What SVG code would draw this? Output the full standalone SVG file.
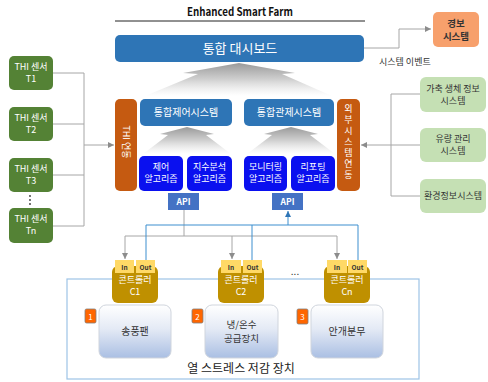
<svg xmlns="http://www.w3.org/2000/svg" width="488" height="382" viewBox="0 0 488 382">
<defs>
<linearGradient id="gArrow" x1="0" y1="0" x2="0" y2="1">
<stop offset="0" stop-color="#9a9a9a"/>
<stop offset="0.5" stop-color="#d0d0d0"/>
<stop offset="1" stop-color="#ffffff" stop-opacity="0.6"/>
</linearGradient>
<linearGradient id="gAct" x1="0" y1="0" x2="0" y2="1">
<stop offset="0" stop-color="#ffffff"/>
<stop offset="0.45" stop-color="#e4eaf5"/>
<stop offset="1" stop-color="#aabfe3"/>
</linearGradient>
<marker id="mGray" markerUnits="userSpaceOnUse" markerWidth="8" markerHeight="8" refX="6" refY="3" orient="auto">
<path d="M0,0 L6,3 L0,6 z" fill="#8c8c8c"/>
</marker>
<marker id="mBlue" markerUnits="userSpaceOnUse" markerWidth="8" markerHeight="8" refX="6" refY="3" orient="auto">
<path d="M0,0 L6,3 L0,6 z" fill="#2e75b6"/>
</marker>
</defs>
<style>
text{font-family:"Noto Sans CJK KR","Liberation Sans",sans-serif;}
.w{fill:#ffffff;}
.d{fill:#333333;}
.c{text-anchor:middle;}
.blue{fill:#2e75b6;}
.algo{fill:#0a10ef;}
.api{fill:#4472c4;}
.org{fill:#c55a11;}
.sens{fill:#548235;}
.ext{fill:#c5e0b4;}
.ctrl{fill:#bf9000;}
.tab{fill:#ffd966;}
.act{fill:url(#gAct);stroke:#d0d5dd;stroke-width:1;}
.badge{fill:#ff6600;stroke:#7f7f7f;stroke-width:0.8;}
.gl{fill:none;stroke:#a6a6a6;stroke-width:1;}
.bl{fill:none;stroke:#3d8fcf;stroke-width:1;}
.vert{writing-mode:vertical-rl;text-orientation:upright;letter-spacing:2px;}
</style>
<rect width="488" height="382" fill="#ffffff"/>

<g id="title">
<text x="240" y="16" class="c" font-family="Liberation Sans, sans-serif" font-weight="bold" font-size="11" fill="#111" textLength="106" lengthAdjust="spacingAndGlyphs">Enhanced Smart Farm</text>
<line x1="115" y1="21" x2="365" y2="21" stroke="#222" stroke-width="1"/>
</g>

<g id="container">
<rect x="67" y="279" width="352" height="100" fill="none" stroke="#9dc3e6" stroke-width="1.2"/>
<text x="241" y="373" class="c" font-size="12" fill="#222">열 스트레스 저감 장치</text>
</g>

<g id="arrows-gradient">
<path d="M239,63 L295,73 L282,74 L332,96 L145,96 L198,74 L183,73 Z" fill="url(#gArrow)"/>
<path d="M187,127 L214,134 L206,135 L231,154 L143,154 L168,135 L160,134 Z" fill="url(#gArrow)"/>
<path d="M291,127 L318,134 L310,135 L335,154 L247,154 L272,135 L264,134 Z" fill="url(#gArrow)"/>
</g>

<g id="connectors">
<polyline class="gl" points="53,73 84,73"/>
<polyline class="gl" points="53,124 84,124"/>
<polyline class="gl" points="53,175 84,175"/>
<polyline class="gl" points="53,226 84,226"/>
<line class="gl" x1="84" y1="73" x2="84" y2="226"/>
<line class="gl" x1="84" y1="145" x2="114" y2="145" marker-end="url(#mGray)"/>
<polyline class="gl" points="420,94 391,94 391,196 420,196"/>
<line class="gl" x1="391" y1="145" x2="420" y2="145"/>
<line class="gl" x1="391" y1="145" x2="361" y2="145" marker-end="url(#mGray)"/>
<polyline class="gl" points="364,48 399,48 399,29 431,29" marker-end="url(#mGray)"/>
<polyline class="gl" points="184,210 184,236"/>
<line class="gl" x1="125" y1="236" x2="337" y2="236"/>
<line class="gl" x1="125" y1="236" x2="125" y2="259" marker-end="url(#mGray)"/>
<line class="gl" x1="232" y1="236" x2="232" y2="259" marker-end="url(#mGray)"/>
<line class="gl" x1="337" y1="236" x2="337" y2="259" marker-end="url(#mGray)"/>
<polyline class="bl" points="146,260 146,225 358,225 358,260"/>
<line class="bl" x1="252" y1="225" x2="252" y2="260"/>
<line class="bl" x1="288" y1="225" x2="288" y2="211" marker-end="url(#mBlue)"/>
</g>

<g id="dashboard">
<rect x="115" y="35" width="249" height="27" rx="5" class="blue"/>
<text x="240" y="53" class="c w" font-size="13">통합 대시보드</text>
</g>

<g id="alarm">
<rect x="433" y="12" width="46" height="35" rx="5" fill="#f7a06c"/>
<text x="456" y="27" class="c" font-size="9.5" font-weight="bold" fill="#333">경보</text>
<text x="456" y="40" class="c" font-size="9.5" font-weight="bold" fill="#333">시스템</text>
</g>
<text x="379" y="65" font-size="9" class="d">시스템 이벤트</text>

<g id="sensor-t1">
<rect x="9" y="56" width="44" height="34" rx="5" class="sens"/>
<text x="31" y="70" class="c w" font-size="9">THI 센서</text>
<text x="31" y="82" class="c w" font-size="9">T1</text>
</g>
<g id="sensor-t2">
<rect x="9" y="107" width="44" height="34" rx="5" class="sens"/>
<text x="31" y="121" class="c w" font-size="9">THI 센서</text>
<text x="31" y="133" class="c w" font-size="9">T2</text>
</g>
<g id="sensor-t3">
<rect x="9" y="158" width="44" height="34" rx="5" class="sens"/>
<text x="31" y="172" class="c w" font-size="9">THI 센서</text>
<text x="31" y="184" class="c w" font-size="9">T3</text>
</g>
<g id="dots-sensors" fill="#333">
<circle cx="30" cy="196" r="0.9"/>
<circle cx="30" cy="200" r="0.9"/>
<circle cx="30" cy="204" r="0.9"/>
</g>
<g id="sensor-tn">
<rect x="9" y="208" width="44" height="35" rx="5" class="sens"/>
<text x="31" y="222" class="c w" font-size="9">THI 센서</text>
<text x="31" y="234" class="c w" font-size="9">Tn</text>
</g>

<g id="thi-link">
<rect x="115" y="99" width="22" height="92" rx="5" class="org"/>
<text x="0" y="0" transform="translate(122.5,142) rotate(90)" class="c w" font-size="9">THI 연동</text>
</g>

<g id="ext-link">
<rect x="337" y="99" width="23" height="92" rx="5" class="org"/>
<text x="348.5" y="143" class="c w vert" font-size="9">외부시스템연동</text>
</g>

<g id="control-system">
<rect x="140" y="99" width="92" height="27" rx="5" class="blue"/>
<text x="186" y="116" class="c w" font-size="10">통합제어시스템</text>
</g>
<g id="monitor-system">
<rect x="244" y="99" width="90" height="27" rx="5" class="blue"/>
<text x="289" y="116" class="c w" font-size="10">통합관제시스템</text>
</g>

<g id="algo-control">
<rect x="139" y="156" width="44" height="35" rx="5" class="algo"/>
<text x="161" y="170" class="c w" font-size="9">제어</text>
<text x="161" y="182" class="c w" font-size="9">알고리즘</text>
</g>
<g id="algo-index">
<rect x="187" y="156" width="45" height="35" rx="5" class="algo"/>
<text x="209.5" y="170" class="c w" font-size="9">지수분석</text>
<text x="209.5" y="182" class="c w" font-size="9">알고리즘</text>
</g>
<g id="algo-monitor">
<rect x="244" y="156" width="43" height="35" rx="5" class="algo"/>
<text x="265.5" y="170" class="c w" font-size="9">모니터링</text>
<text x="265.5" y="182" class="c w" font-size="9">알고리즘</text>
</g>
<g id="algo-report">
<rect x="291" y="156" width="44" height="35" rx="5" class="algo"/>
<text x="313" y="170" class="c w" font-size="9">리포팅</text>
<text x="313" y="182" class="c w" font-size="9">알고리즘</text>
</g>

<g id="api-left">
<rect x="168" y="193" width="31" height="17" class="api"/>
<text x="183.5" y="205" class="c w" font-size="8.5" font-weight="bold">API</text>
</g>
<g id="api-right">
<rect x="272" y="193" width="31" height="17" class="api"/>
<text x="287.5" y="205" class="c w" font-size="8.5" font-weight="bold">API</text>
</g>

<g id="ext-bio">
<rect x="420" y="77" width="66" height="35" rx="6" class="ext"/>
<text x="453" y="92" class="c d" font-size="9">가축 생체 정보</text>
<text x="453" y="104" class="c d" font-size="9">시스템</text>
</g>
<g id="ext-flow">
<rect x="420" y="128" width="66" height="34" rx="6" class="ext"/>
<text x="453" y="142" class="c d" font-size="9">유량 관리</text>
<text x="453" y="154" class="c d" font-size="9">시스템</text>
</g>
<g id="ext-env">
<rect x="420" y="179" width="66" height="34" rx="6" class="ext"/>
<text x="453" y="199" class="c d" font-size="9">환경정보시스템</text>
</g>

<g id="controller-c1">
<rect x="112" y="266" width="46" height="37" rx="6" class="ctrl"/>
<rect x="115" y="260" width="19" height="13" class="tab"/>
<rect x="136" y="260" width="19" height="13" class="tab"/>
<text x="124.5" y="269.5" class="c d" font-size="6.5" font-weight="bold" font-family="Liberation Sans, sans-serif">In</text>
<text x="145.5" y="269.5" class="c d" font-size="6.5" font-weight="bold" font-family="Liberation Sans, sans-serif">Out</text>
<text x="135" y="283" class="c w" font-size="9">콘트롤러</text>
<text x="135" y="295" class="c w" font-size="9">C1</text>
</g>
<g id="controller-c2">
<rect x="218" y="266" width="46" height="37" rx="6" class="ctrl"/>
<rect x="221" y="260" width="20" height="13" class="tab"/>
<rect x="243" y="260" width="19" height="13" class="tab"/>
<text x="231" y="269.5" class="c d" font-size="6.5" font-weight="bold" font-family="Liberation Sans, sans-serif">In</text>
<text x="252.5" y="269.5" class="c d" font-size="6.5" font-weight="bold" font-family="Liberation Sans, sans-serif">Out</text>
<text x="241" y="283" class="c w" font-size="9">콘트롤러</text>
<text x="241" y="295" class="c w" font-size="9">C2</text>
</g>
<text x="295" y="275" class="c" font-size="10" fill="#333" font-family="Liberation Sans, sans-serif">...</text>
<g id="controller-cn">
<rect x="324" y="266" width="46" height="37" rx="6" class="ctrl"/>
<rect x="327" y="260" width="20" height="13" class="tab"/>
<rect x="348" y="260" width="19" height="13" class="tab"/>
<text x="337" y="269.5" class="c d" font-size="6.5" font-weight="bold" font-family="Liberation Sans, sans-serif">In</text>
<text x="357.5" y="269.5" class="c d" font-size="6.5" font-weight="bold" font-family="Liberation Sans, sans-serif">Out</text>
<text x="347" y="283" class="c w" font-size="9">콘트롤러</text>
<text x="347" y="295" class="c w" font-size="9">Cn</text>
</g>

<g id="act-fan">
<rect x="99" y="305" width="72" height="53" rx="7" class="act"/>
<text x="135" y="335" class="c d" font-size="10">송풍팬</text>
<rect x="85" y="309" width="11" height="14" rx="1.5" class="badge"/>
<text x="90.5" y="319.5" class="c w" font-size="8" font-family="Liberation Sans, sans-serif">1</text>
</g>
<g id="act-water">
<rect x="205" y="305" width="73" height="53" rx="7" class="act"/>
<text x="241.5" y="328" class="c d" font-size="9.5"><tspan x="241.5">냉/온수</tspan><tspan x="241.5" dy="13.5">공급장치</tspan></text>
<rect x="192" y="309" width="11" height="14" rx="1.5" class="badge"/>
<text x="197.5" y="319.5" class="c w" font-size="8" font-family="Liberation Sans, sans-serif">2</text>
</g>
<g id="act-mist">
<rect x="311" y="305" width="72" height="53" rx="7" class="act"/>
<text x="347" y="335" class="c d" font-size="10">안개분무</text>
<rect x="297" y="309" width="11" height="15" rx="1.5" class="badge"/>
<text x="302.5" y="320" class="c w" font-size="8" font-family="Liberation Sans, sans-serif">3</text>
</g>
</svg>
